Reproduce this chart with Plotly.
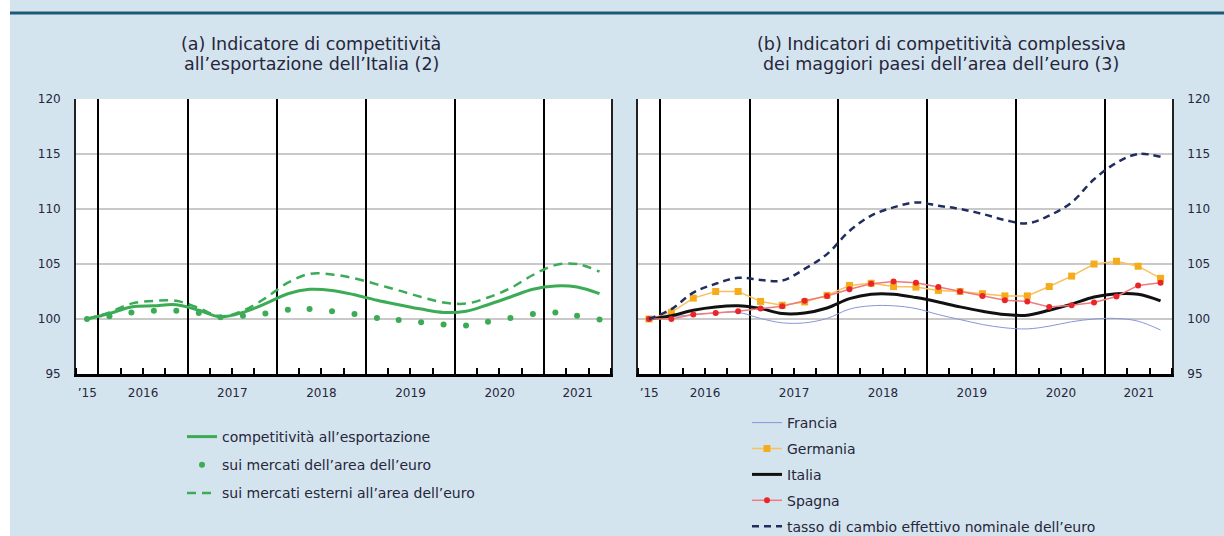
import pandas as pd
import plotly.graph_objects as go

# Quarterly observations, plotted at the middle of each quarter (Q4 2015 - Q3 2021)
quarters = pd.date_range("2015-11-15", periods=24, freq=pd.DateOffset(months=3))

# (a) Italy's export competitiveness indicator (index)
export_comp = [100.0, 100.5, 101.1, 101.2, 101.3, 100.8, 100.2, 100.6,
               101.4, 102.3, 102.7, 102.6, 102.2, 101.7, 101.3, 100.9,
               100.6, 100.7, 101.3, 102.0, 102.7, 103.0, 102.9, 102.3]
euro_area_mkts = [100.0, 100.25, 100.6, 100.75, 100.75, 100.55, 100.15, 100.3,
                  100.5, 100.85, 100.9, 100.7, 100.45, 100.1, 99.9, 99.7,
                  99.5, 99.4, 99.75, 100.1, 100.45, 100.6, 100.3, 99.95]
non_euro_mkts = [100.0, 100.6, 101.4, 101.65, 101.65, 101.0, 100.25, 100.75,
                 101.9, 103.3, 104.1, 104.05, 103.7, 103.15, 102.6, 102.0,
                 101.5, 101.4, 101.95, 102.8, 104.0, 104.9, 105.0, 104.3]

# (b) overall competitiveness of the main euro-area countries (index)
francia = [100.0, 100.2, 100.4, 100.55, 100.6, 100.05, 99.65, 99.65,
           100.05, 100.9, 101.2, 101.2, 100.95, 100.4, 99.95, 99.5,
           99.2, 99.1, 99.35, 99.75, 100.0, 100.05, 99.8, 99.0]
germania = [100.0, 100.6, 101.9, 102.5, 102.5, 101.6, 101.25, 101.55,
            102.15, 103.05, 103.25, 102.95, 102.9, 102.6, 102.5, 102.3,
            102.1, 102.1, 102.95, 103.9, 105.0, 105.25, 104.8, 103.7]
italia = [100.0, 100.3, 100.8, 101.1, 101.2, 100.95, 100.5, 100.55,
          101.0, 101.85, 102.25, 102.25, 101.95, 101.55, 101.1, 100.7,
          100.4, 100.35, 100.8, 101.35, 102.0, 102.3, 102.25, 101.65]
spagna = [100.0, 100.0, 100.4, 100.55, 100.7, 100.95, 101.15, 101.65,
          102.1, 102.7, 103.2, 103.4, 103.3, 102.9, 102.5, 102.1,
          101.7, 101.6, 101.1, 101.25, 101.5, 102.05, 103.05, 103.3]
neer_euro = [100.0, 100.9, 102.4, 103.2, 103.75, 103.55, 103.5, 104.55,
             105.9, 108.0, 109.4, 110.15, 110.6, 110.3, 110.0, 109.55,
             109.0, 108.7, 109.4, 110.6, 112.7, 114.2, 115.0, 114.75]

# Axis labels and range
year_labels = ["\u201915", "2016", "2017", "2018", "2019", "2020", "2021"]
x_start, x_end = pd.Timestamp("2015-10-01"), pd.Timestamp("2021-10-01")
y_ticks = [95, 100, 105, 110, 115, 120]

# Panel titles, one entry per line
title_a = ["(a) Indicatore di competitività", "all\u2019esportazione dell\u2019Italia (2)"]
title_b = ["(b) Indicatori di competitività complessiva",
           "dei maggiori paesi dell\u2019area dell\u2019euro (3)"]

# Labels sit in the middle of the visible part of each year
bounds = [x_start] + [pd.Timestamp(f"{y}-01-01") for y in range(2016, 2022)] + [x_end]
label_pos = [a + (b - a) / 2 for a, b in zip(bounds[:-1], bounds[1:])]

FONT = "DejaVu Sans, Verdana, sans-serif"
TXT = "#26263c"
GREEN = "#3bab55"
W, H = 1224, 536

fig = go.Figure()

# ---- panel (a)
fig.add_trace(go.Scatter(x=quarters, y=export_comp, name="competitività all\u2019esportazione",
                         mode="lines", line=dict(color=GREEN, width=3, shape="spline"),
                         xaxis="x", yaxis="y", legend="legend", legendgroup="a1"))
fig.add_trace(go.Scatter(x=quarters, y=euro_area_mkts, name="sui mercati dell\u2019area dell\u2019euro",
                         mode="markers", marker=dict(color=GREEN, size=6),
                         xaxis="x", yaxis="y", legend="legend", legendgroup="a2"))
fig.add_trace(go.Scatter(x=quarters, y=non_euro_mkts, name="sui mercati esterni all\u2019area dell\u2019euro",
                         mode="lines", line=dict(color=GREEN, width=2.5, dash="9px,6px", shape="spline"),
                         xaxis="x", yaxis="y", legend="legend", legendgroup="a3"))

# ---- panel (b)
fig.add_trace(go.Scatter(x=quarters, y=francia, name="Francia", mode="lines",
                         line=dict(color="#8796d8", width=1, shape="spline"),
                         xaxis="x2", yaxis="y2", legend="legend2", legendgroup="b1"))
fig.add_trace(go.Scatter(x=quarters, y=germania, name="Germania", mode="lines+markers",
                         line=dict(color="#f9c15a", width=1.5),
                         marker=dict(color="#f5ac1c", size=7, symbol="square"),
                         xaxis="x2", yaxis="y2", legend="legend2", legendgroup="b2"))
fig.add_trace(go.Scatter(x=quarters, y=italia, name="Italia", mode="lines",
                         line=dict(color="#111111", width=3, shape="spline"),
                         xaxis="x2", yaxis="y2", legend="legend2", legendgroup="b3"))
fig.add_trace(go.Scatter(x=quarters, y=spagna, name="Spagna", mode="lines+markers",
                         line=dict(color="#f27a7a", width=1.5),
                         marker=dict(color="#e8262a", size=6, symbol="circle"),
                         xaxis="x2", yaxis="y2", legend="legend2", legendgroup="b4"))
fig.add_trace(go.Scatter(x=quarters, y=neer_euro, name="tasso di cambio effettivo nominale dell\u2019euro",
                         mode="lines", line=dict(color="#1f2e5e", width=2.5, dash="7px,5px", shape="spline"),
                         xaxis="x2", yaxis="y2", legend="legend2", legendgroup="b5"))

# anchor traces for the overlay axes that carry the year separators
for xa, ya in (("x3", "y"), ("x4", "y2")):
    fig.add_trace(go.Scatter(x=[quarters[0]], y=[100], mode="markers", marker=dict(opacity=0),
                             xaxis=xa, yaxis=ya, showlegend=False, hoverinfo="skip"))

dom_a = [76 / W, 611 / W]
dom_b = [638 / W, 1172 / W]
dom_y = [1 - 374 / H, 1 - 99 / H]


def label_axis(domain, anchor):
    return dict(domain=domain, anchor=anchor, type="date", range=[x_start, x_end],
                tickmode="array", tickvals=label_pos, ticktext=year_labels,
                ticks="", showgrid=False, zeroline=False, automargin=False,
                showline=True, linecolor="black", linewidth=2.5,
                tickfont=dict(family=FONT, size=12, color=TXT), ticklabelstandoff=6)


def year_axis(over, anchor):
    return dict(overlaying=over, anchor=anchor, type="date", range=[x_start, x_end],
                tickmode="linear", tick0="2016-01-01", dtick="M12", automargin=False,
                showgrid=True, gridcolor="black", gridwidth=1.6,
                ticks="", showticklabels=False, showline=False, zeroline=False,
                minor=dict(tickmode="linear", tick0="2016-01-01", dtick="M3", ticks="inside",
                           ticklen=6, tickwidth=1.5, tickcolor="black", showgrid=False))


def value_axis(anchor, side):
    return dict(domain=dom_y, anchor=anchor, side=side, range=[95, 120],
                tickmode="array", tickvals=y_ticks, ticks="", automargin=False,
                showgrid=True, gridcolor="#c9c9c9", gridwidth=2, zeroline=False,
                showline=True, linecolor="#222222", linewidth=1.8, mirror=True,
                tickfont=dict(family=FONT, size=12, color=TXT), ticklabelstandoff=11)


legend_common = dict(bgcolor="rgba(0,0,0,0)", borderwidth=0, xanchor="left", yanchor="top",
                     xref="container", yref="container",
                     font=dict(family=FONT, size=14, color=TXT), traceorder="grouped",
                     itemclick=False, itemdoubleclick=False)

# two-line panel titles, centred above each panel
title_notes = []
for lines, xc in ((title_a, 311), (title_b, 941)):
    for i, line in enumerate(lines):
        title_notes.append(dict(xref="paper", yref="paper", x=xc / W, y=1 - (44 + 20 * i) / H,
                                xanchor="center", yanchor="middle", showarrow=False,
                                text=line, font=dict(family=FONT, size=17.5, color=TXT)))

fig.update_layout(
    width=W, height=H, autosize=False,
    margin=dict(l=0, r=0, t=0, b=0, pad=0, autoexpand=False),
    paper_bgcolor="#d4e4ee", plot_bgcolor="white",
    xaxis=label_axis(dom_a, "y"),
    xaxis2=label_axis(dom_b, "y2"),
    xaxis3=year_axis("x", "y"),
    xaxis4=year_axis("x2", "y2"),
    yaxis=value_axis("x", "left"),
    yaxis2=value_axis("x2", "right"),
    legend=dict(x=182 / W, y=1 - 421 / H, tracegroupgap=7, **legend_common),
    legend2=dict(x=747 / W, y=1 - 407 / H, tracegroupgap=4.7, **legend_common),
    showlegend=True,
    shapes=[
        dict(type="rect", xref="paper", yref="paper", x0=0, x1=10 / W, y0=0, y1=1,
             fillcolor="white", line=dict(width=0), layer="above"),
        dict(type="line", xref="paper", yref="paper", x0=10 / W, x1=1, y0=1 - 13 / H, y1=1 - 13 / H,
             line=dict(color="#1e5878", width=3)),
    ],
    annotations=title_notes,
)

fig.write_html("out.html")
